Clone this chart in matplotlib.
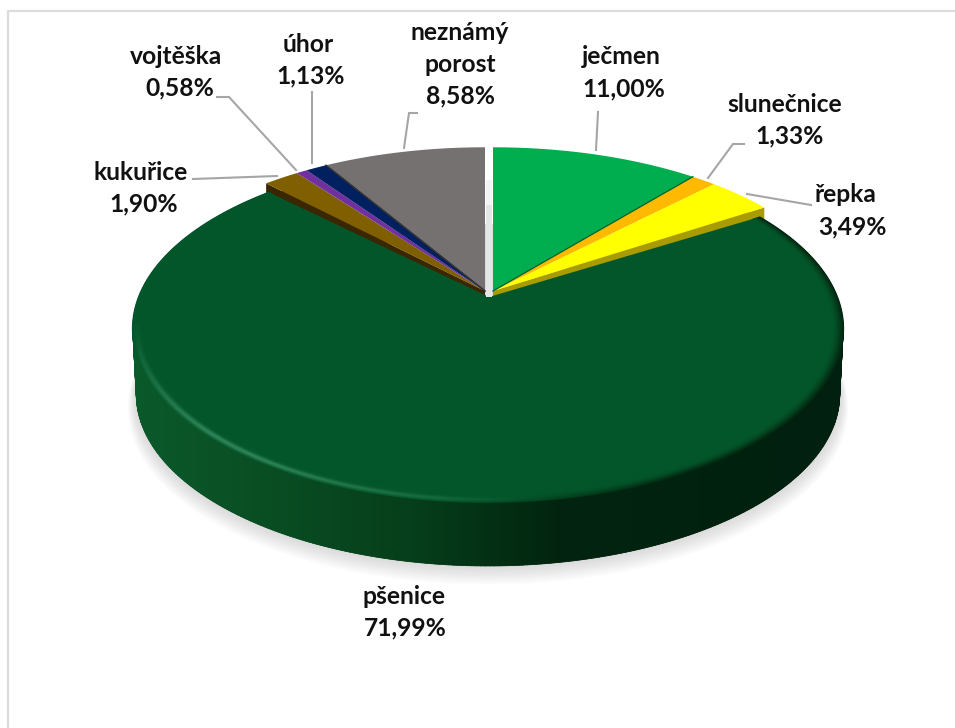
import numpy as np
import matplotlib

matplotlib.use("Agg")
import matplotlib.pyplot as plt
from matplotlib.collections import LineCollection, PolyCollection
from matplotlib.colors import LinearSegmentedColormap, to_rgb
from matplotlib.patches import Polygon

# clockwise from 12 o'clock
crops = ["ječmen", "slunečnice", "řepka", "pšenice", "kukuřice", "vojtěška", "úhor", "neznámý\nporost"]
shares = [11.00, 1.33, 3.49, 71.99, 1.90, 0.58, 1.13, 8.58]

COLORS = ["#00AE50", "#FFB900", "#FFFF00", "#03562A", "#7F5F00", "#7030A0", "#002060", "#767171"]
FACE = "#03562A"
LEADER = "#A6A6A6"
BORDER = "#DCDCDC"
BIG = 3  # index of the wheat slice

# label anchors in px: name x, value x, first line y
LABEL_POS = [(621, 624, 57), (785, 790, 104), (845, 852, 195), (404, 405, 596),
             (141, 144, 172), (176, 180, 56), (308, 311, 44), (460, 460, 32)]
LINE_STEP = 32
LEADERS = [
    [(596, 150), (598, 112)],
    [(708, 178), (733, 144), (744, 144)],
    [(747, 194), (811, 205)],
    [],
    [(277, 176), (193, 179)],
    [(296, 170), (229, 97), (217, 97)],
    [(312, 163), (312, 92)],
    [(404, 148), (409, 113), (417, 113)],
]

# perspective disc: far side squeezed, near side stretched
PERSP = 0.155
RX = 351.0
BEVEL = 0.03


def rim(theta, cx, cy, a, r=1.0, rx=RX):
    th = np.radians(theta)
    w = 1 + PERSP * r * np.cos(th)
    return cx + rx * r * np.sin(th) / w, cy - a * r * np.cos(th) / w


def mix(c1, c2, t):
    c1, c2 = np.array(to_rgb(c1)), np.array(to_rgb(c2))
    return tuple(c1 * (1 - t) + c2 * t)


edges = np.concatenate([[0], np.cumsum(shares)]) * 3.6

fig = plt.figure(figsize=(9.55, 7.28), dpi=100)
ax = fig.add_axes([0, 0, 1, 1])

# chart frame (open on the right and bottom, cropped screenshot)
ax.plot([7.5, 7.5, 955], [728, 11, 11], color=BORDER, lw=1.6, zorder=1)

big_start, big_end = edges[BIG], edges[BIG + 1]
theta_big = np.linspace(big_start, big_end, 400)
BX, BY, BA = 488, 302, 169
DROP = 66
SHRINK = 0.99

# soft drop shadow under the disc
full = np.linspace(0, 360, 361)
for k in range(14, 0, -1):
    sx, sy = rim(full, BX, BY + DROP + k * 1.0, BA * SHRINK, r=1 + k * 0.0018, rx=RX * SHRINK)
    ax.add_patch(Polygon(np.c_[sx, sy], fc=mix("#DADADA", "#FFFFFF", (k / 14) ** 1.2), ec="none", zorder=2))

# raised slices next to the wheat: cut face shows along the shared edge
SIDE = {2: ("#A89C00", edges[BIG]), 4: ("#3A2600", edges[BIG + 1])}
for i, (col, cut) in SIDE.items():
    cx = 493 if i < BIG else 485
    x, y = rim(np.linspace(edges[i], edges[i + 1], 40), cx, 291, 166)
    pts = np.r_[[[cx, 291]], np.c_[x, y]]
    ax.add_patch(Polygon(pts + [0, 13], fc=col, ec="none", zorder=3))
    ex, ey = rim(cut, cx, 291, 166)
    ax.add_patch(Polygon([(cx, 291), (ex, ey), (ex, ey + 13), (cx, 304)], fc=col, ec="none", zorder=3))

# wheat side wall, shaded by horizontal position
side_cmap = LinearSegmentedColormap.from_list(
    "side", [(0, "#0B5A2B"), (0.17, "#0A4F24"), (0.39, "#063F1B"), (0.6, "#02240F"), (1, "#01200F")])
tx, ty = rim(theta_big, BX, BY, BA)
bx, by = rim(theta_big, BX, BY + DROP, BA * SHRINK, rx=RX * SHRINK)
# swept quads close the silhouette at the far left and right
quads = [[(tx[j], ty[j]), (tx[j + 1], ty[j + 1]), (bx[j + 1], by[j + 1]), (bx[j], by[j])]
         for j in range(len(theta_big) - 1)]
shade = [side_cmap((tx[j] - 131) / 712) for j in range(len(theta_big) - 1)]
ax.add_collection(PolyCollection(quads, facecolors=shade, edgecolors=shade, linewidths=0.5, zorder=4))
wall = Polygon(np.r_[np.c_[tx, ty], np.c_[bx, by][::-1]], fc="none", ec="none", zorder=4)
ax.add_patch(wall)
im = ax.imshow(np.linspace(0, 1, 512)[None, :], cmap=side_cmap, vmin=0, vmax=1, aspect="auto",
               extent=[131, 843, 600, 150], zorder=4)
im.set_clip_path(wall)

# wheat top face
ax.add_patch(Polygon(np.r_[[[489, 297]], np.c_[tx, ty]], fc=FACE, ec="none", zorder=5))

# bevel: highlight on the lit left, dark fade on the right
for r in np.linspace(1.0, 1 - BEVEL, 12):
    t = np.clip((1 - r) / BEVEL, 0, 1)
    rx_, ry_ = rim(theta_big, BX, BY, BA, r=r)
    segs = np.stack([np.c_[rx_[:-1], ry_[:-1]], np.c_[rx_[1:], ry_[1:]]], axis=1)
    cols = []
    for xx, yy in zip(rx_[:-1], ry_[:-1]):
        lit = np.clip((560 - xx) / 300, 0, 1) * np.clip((yy - 320) / 110, 0.0, 1)
        bump = np.exp(-((t - 0.42) / 0.3) ** 2)
        dark = np.clip((xx - 440) / 250, 0, 1) * (1 - t) ** 1.4
        c = mix(FACE, "#2F8559", float(lit * bump))
        cols.append(mix(c, "#02240F", float(dark)))
    ax.add_collection(LineCollection(segs, colors=cols, linewidths=1.2, zorder=6))

# gap between the first and last slice, faintly shaded
ax.fill_between([486, 491.5], 205, 297, color="#E6E6E6", lw=0, zorder=6)
ax.fill_between([486, 491.5], 180, 205, color="#F4F4F4", lw=0, zorder=6)

# small slice top faces
for i in range(len(shares)):
    if i == BIG:
        continue
    cx = 493 if i < BIG else 485
    x, y = rim(np.linspace(edges[i], edges[i + 1], 40), cx, 291, 166)
    ax.add_patch(Polygon(np.r_[[[cx, 291]], np.c_[x, y]], fc=COLORS[i], ec="none", zorder=7))
    # thin dark seam on the clockwise-facing cut
    if i in (0, 6):
        ex, ey = rim(edges[i + 1], cx, 291, 166)
        ax.plot([cx, ex], [291, ey], color=mix(COLORS[i], "#000000", 0.45), lw=0.9, zorder=8)
    if i == 7:
        ex, ey = rim(edges[i], cx, 291, 166)
        ax.plot([cx, ex], [291, ey], color="#3A3838", lw=0.9, zorder=8)

# leader lines
for path in LEADERS:
    if path:
        xs, ys = zip(*path)
        ax.plot(xs, ys, color=LEADER, lw=1.5, solid_joinstyle="miter", zorder=9)

# labels
for name, val, (nx, vx, y0) in zip(crops, shares, LABEL_POS):
    lines = name.split("\n")
    for n, line in enumerate(lines):
        ax.text(nx, y0 + n * LINE_STEP, line, ha="center", va="center", family="Lato",
                weight="bold", fontsize=17.7, color="#111111", zorder=10)
    ax.text(vx, y0 + len(lines) * LINE_STEP, f"{val:.2f}".replace(".", ",") + "%", ha="center",
            va="center", family="Lato", weight="bold", fontsize=17.7, color="#111111", zorder=10)

ax.set_xlim(0, 955)
ax.set_ylim(728, 0)
ax.axis("off")
fig.savefig("out.png", dpi=100, facecolor="white")
